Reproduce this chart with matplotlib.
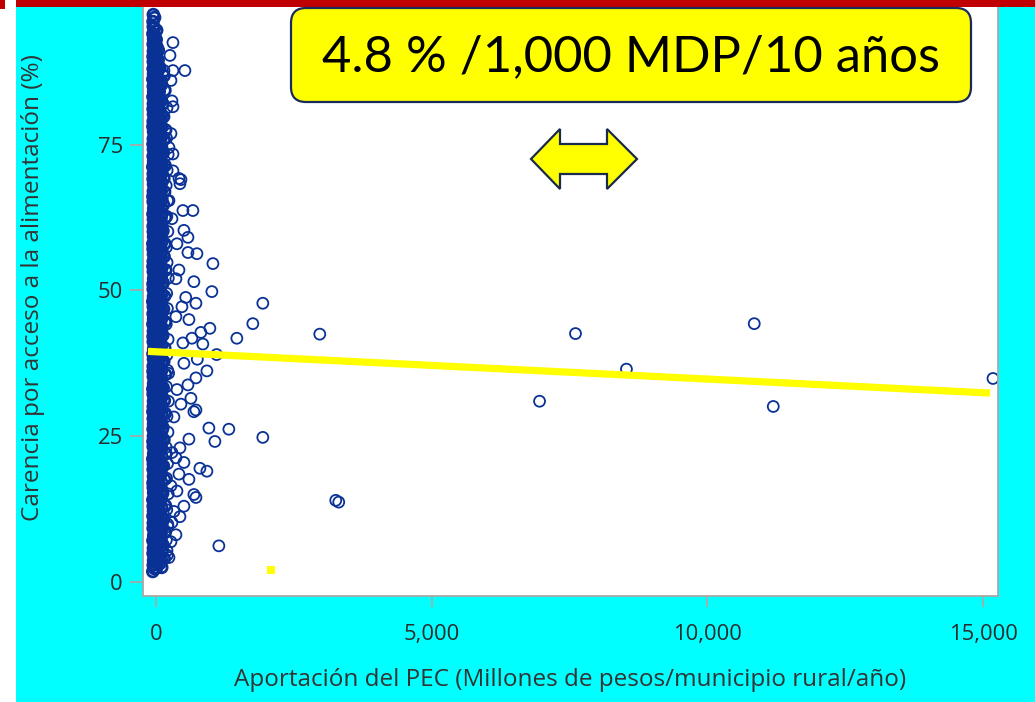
import matplotlib
matplotlib.use("Agg")
import matplotlib.pyplot as plt
from matplotlib.patches import Rectangle, FancyBboxPatch, Polygon
from matplotlib.transforms import IdentityTransform

# ---------------- data ----------------
# dense column of municipalities with very small PEC contribution
col_a_x = [-58, -50, -44, -53, -47, -56, -41, -52, -49, -55, -45, -51, -57, -43, -50, -54,
           -46, -52, -48, -58, -42, -51, -55, -47, -53, -44, -50, -56, -49, -45, -52, -57,
           -43, -48, -54, -51, -46, -55, -42, -50, -53, -47, -56, -44, -52, -49, -58, -45,
           -51, -54, -43, -48, -55, -50, -46, -53, -57, -44, -49, -52, -47, -55, -42, -51,
           -56, -48, -45, -53, -50, -58, -43, -52, -47, -54, -49, -44, -56, -51, -46, -53,
           -48, -55, -42, -50, -57, -45, -52, -49, -54, -47, -51, -44, -56, -50, -53, -48]
col_a_y = [1.8, 2.9, 3.7, 4.9, 5.8, 7.1, 8.0, 9.2, 10.1, 11.3, 12.2, 13.0, 14.1, 15.3, 16.2, 17.0,
           18.1, 19.3, 20.2, 21.1, 22.0, 23.2, 24.1, 25.0, 26.2, 27.1, 28.0, 29.2, 30.1, 31.0, 32.2, 33.1,
           34.0, 35.2, 36.1, 37.0, 38.2, 39.1, 40.0, 41.2, 42.1, 43.0, 44.2, 45.1, 46.0, 47.2, 48.1, 49.0,
           50.2, 51.1, 52.0, 53.2, 54.1, 55.0, 56.2, 57.1, 58.0, 59.2, 60.1, 61.0, 62.2, 63.1, 64.0, 65.2,
           66.1, 67.0, 68.2, 69.1, 70.0, 71.2, 72.1, 73.0, 74.2, 75.1, 76.0, 77.2, 78.1, 79.0, 80.2, 81.1,
           82.0, 83.2, 84.1, 85.0, 86.2, 87.1, 88.0, 89.2, 90.1, 91.0, 92.2, 93.1, 94.0, 95.2, 96.1, 97.3]
col_b_x = [12, 5, 18, 9, 15, 2, 20, 7, 13, 4, 17, 10, 1, 19, 8, 14,
           6, 16, 11, 3, 21, 9, 15, 5, 18, 12, 2, 17, 7, 14, 10, 20,
           4, 13, 8, 19, 6, 16, 11, 1, 18, 9, 15, 3, 12, 20, 7, 14,
           5, 17, 10, 2, 19, 8, 13, 16, 4, 11, 18, 6, 15, 9, 1, 20,
           12, 7, 17, 3, 14, 10, 19, 5, 16, 8, 13, 2, 18, 11, 6, 15,
           9, 20, 4, 12, 17, 7, 14, 1, 10, 16, 5, 13]
col_b_y = [2.4, 3.3, 4.4, 5.3, 6.5, 7.5, 8.6, 9.7, 10.6, 11.8, 12.6, 13.6, 14.7, 15.8, 16.6, 17.5,
           18.7, 19.8, 20.6, 21.6, 22.5, 23.7, 24.6, 25.5, 26.7, 27.6, 28.5, 29.7, 30.6, 31.5, 32.7, 33.6,
           34.5, 35.7, 36.6, 37.5, 38.7, 39.6, 40.5, 41.7, 42.6, 43.5, 44.7, 45.6, 46.5, 47.7, 48.6, 49.5,
           50.7, 51.6, 52.5, 53.7, 54.6, 55.5, 56.7, 57.6, 58.5, 59.7, 60.6, 61.5, 62.7, 63.6, 64.5, 65.7,
           66.6, 67.5, 68.7, 69.6, 70.5, 71.7, 72.6, 73.5, 74.7, 75.6, 76.5, 77.7, 78.6, 79.5, 80.7, 81.6,
           82.5, 83.7, 84.6, 85.5, 86.7, 87.6, 88.5, 89.7, 90.6, 91.8, 93.0, 94.6]
col_c_x = [75, 62, 88, 70, 95, 58, 82, 66, 91, 73, 60, 85, 78, 64, 93, 69,
           80, 57, 87, 72, 96, 63, 84, 68, 90, 76, 59, 86, 71, 94, 65, 81,
           74, 61, 89, 67, 92, 79, 56, 83, 70, 97, 62, 88, 75, 66, 90, 73,
           58, 85, 77, 64, 93, 69, 81, 60, 87, 72]
col_c_y = [3.2, 4.6, 6.1, 7.7, 9.1, 10.7, 12.0, 13.5, 15.0, 16.4, 17.9, 19.4, 20.8, 22.3, 23.9, 25.2,
           26.8, 28.3, 29.6, 31.2, 32.6, 34.1, 35.5, 37.0, 38.5, 39.9, 41.4, 42.8, 44.3, 45.8, 47.2, 48.7,
           50.1, 51.6, 53.0, 54.5, 56.0, 57.4, 58.9, 60.3, 61.8, 63.2, 64.7, 66.1, 67.6, 69.1, 70.5, 72.0,
           73.4, 74.9, 76.3, 77.8, 79.3, 80.8, 82.4, 84.1, 86.0, 88.2]
col_d_x = [150, 128, 165, 140, 172, 122, 158, 135, 180, 145, 126, 168, 152, 132, 175, 142,
           160, 124, 170, 138, 155, 130, 178, 148, 162, 127, 173, 136, 157, 144, 166, 133,
           150, 176, 139, 125, 163, 147]
col_d_y = [4.0, 6.3, 8.5, 10.8, 13.1, 15.2, 17.6, 19.9, 22.0, 24.4, 26.5, 28.9, 31.1, 33.3, 35.6, 37.8,
           40.1, 42.3, 44.6, 46.8, 49.0, 51.3, 53.5, 55.8, 58.0, 60.2, 62.5, 64.7, 66.9, 69.2, 71.4, 73.6,
           75.9, 77.5, 79.8, 82.0, 84.3, 86.8]
col_e = [(-27, 2.3), (-22, 3.4), (-30, 4.3), (-24, 5.4), (-20, 6.3), (-28, 7.4), (-23, 8.3), (-26, 9.4),
         (-21, 10.3), (-29, 11.4), (-25, 12.3), (-22, 13.4), (-27, 14.3), (-30, 15.4), (-24, 16.3),
         (-20, 17.4), (-26, 18.3), (-23, 19.4), (-28, 20.3), (-21, 21.4), (-25, 22.3), (-29, 23.4),
         (-22, 24.3), (-27, 25.4), (-24, 26.3), (-20, 27.4), (-30, 28.3), (-26, 29.4), (-23, 30.3),
         (-28, 31.4), (-21, 32.3), (-25, 33.4), (-29, 34.3), (-22, 35.4), (-27, 36.3), (-24, 37.4),
         (-20, 38.3), (-26, 39.4), (-30, 40.3), (-23, 41.4), (-28, 42.3), (-21, 43.4), (-25, 44.3),
         (-29, 45.4), (-22, 46.3), (-27, 47.4), (-24, 48.3), (-20, 49.4), (-26, 50.3), (-23, 51.4),
         (-30, 52.3), (-28, 53.4), (-21, 54.3), (-25, 55.4), (-29, 56.3), (-22, 57.4), (-27, 58.3),
         (-24, 59.4), (-20, 60.3), (-26, 61.4), (-23, 62.3), (-28, 63.4), (-30, 64.3), (-21, 65.4),
         (-25, 66.3), (-29, 67.4), (-22, 68.3), (-27, 69.4), (-24, 70.3), (-20, 71.4), (-26, 72.3),
         (-23, 73.4), (-28, 74.3), (-21, 75.4), (-30, 76.3), (-25, 77.4), (-29, 78.3), (-22, 79.4),
         (-27, 80.3), (-24, 81.4), (-20, 82.3), (-26, 83.4), (-23, 84.3), (-28, 85.4), (-21, 86.3),
         (-25, 87.4), (-29, 88.3), (-22, 89.4), (-27, 90.3), (-24, 91.4), (-26, 92.5), (-23, 93.6),
         (-28, 95.0), (-25, 96.8)]
col_f = [(38, 3.9), (45, 4.8), (35, 5.9), (42, 6.8), (48, 7.9), (36, 8.8), (44, 9.9), (40, 10.8),
         (47, 11.9), (34, 12.8), (43, 13.9), (39, 14.8), (46, 15.9), (37, 16.8), (41, 17.9), (49, 18.8),
         (35, 19.9), (44, 20.8), (38, 21.9), (47, 22.8), (42, 23.9), (36, 24.8), (45, 25.9), (40, 26.8),
         (48, 27.9), (34, 28.8), (43, 29.9), (39, 30.8), (46, 31.9), (37, 32.8), (41, 33.9), (49, 34.8),
         (35, 35.9), (44, 36.8), (38, 37.9), (47, 38.8), (42, 39.9), (36, 40.8), (45, 41.9), (40, 42.8),
         (48, 43.9), (34, 44.8), (43, 45.9), (39, 46.8), (46, 47.9), (37, 48.8), (41, 49.9), (49, 50.8),
         (35, 51.9), (44, 52.8), (38, 53.9), (47, 54.8), (42, 55.9), (36, 56.8), (45, 57.9), (40, 58.8),
         (48, 59.9), (34, 60.8), (43, 61.9), (39, 62.8), (46, 63.9), (37, 64.8), (41, 65.9), (49, 66.8),
         (35, 67.9), (44, 68.8), (38, 69.9), (47, 70.8), (42, 71.9), (36, 72.8), (45, 73.9), (40, 74.8),
         (48, 75.9), (34, 76.8), (43, 77.9), (39, 78.8), (46, 79.9), (37, 80.8), (41, 81.9), (44, 82.8),
         (38, 83.9), (42, 85.0), (36, 86.3), (45, 87.8), (40, 89.5), (43, 91.2)]
col_g = [(105, 2.5), (96, 3.9), (110, 5.3), (100, 6.9), (92, 8.4), (108, 9.8), (98, 11.3), (104, 12.7),
         (94, 14.2), (112, 15.7), (101, 17.1), (95, 18.6), (107, 20.1), (99, 21.6), (103, 23.0), (93, 24.5),
         (109, 26.0), (97, 27.4), (106, 28.9), (100, 30.4), (111, 31.8), (94, 33.3), (102, 34.8), (98, 36.2),
         (108, 37.7), (95, 39.2), (104, 40.6), (99, 42.1), (110, 43.6), (96, 45.0), (103, 46.5), (93, 48.0),
         (107, 49.4), (101, 50.9), (97, 52.4), (105, 53.8), (94, 55.3), (109, 56.8), (100, 58.2), (98, 59.7),
         (106, 61.2), (95, 62.6), (102, 64.1), (108, 65.6), (96, 67.0), (104, 68.5), (99, 70.0), (111, 71.5),
         (97, 73.0), (103, 74.5), (94, 76.2), (106, 78.0), (100, 80.1), (96, 82.6), (102, 85.3)]
col_h = [(205, 4.6), (188, 7.2), (215, 9.9), (196, 12.4), (222, 15.1), (192, 17.8), (210, 20.3),
         (186, 23.1), (218, 25.7), (200, 28.4), (226, 31.0), (190, 33.5), (212, 36.3), (198, 38.9),
         (220, 41.6), (187, 44.2), (207, 46.9), (194, 49.5), (224, 52.1), (202, 54.8), (189, 57.4),
         (216, 60.1), (197, 62.7), (211, 65.4), (185, 68.0), (203, 70.6), (221, 73.3), (193, 76.1)]
# scattered municipalities next to the column and far outliers
sc_x = [145, 308, 525, 272, 290, 308, 200, 272, 236, 308, 308, 417, 453, 435, 236, 489, 670, 290,
        507, 580, 743, 580, 1033, 417, 362, 688, 1014, 540, 725, 471, 1938, 362, 598, 1757, 978, 815,
        1467, 2971, 652, 489, 850, 1100, 750, 507, 924, 725, 580, 381, 634, 453, 725, 688, 326, 960,
        1322, 1938, 1069, 598, 435, 290, 362, 507, 797, 924, 417, 598, 272, 381, 688, 725, 3261, 3315,
        507, 326, 435, 290, 217, 362, 272, 1141, 200, 236, 308, 254, 380, 230,
        15181, 10851, 11196, 8533, 7609, 6957]
sc_y = [87.7, 87.7, 87.7, 86.0, 82.5, 81.5, 81.3, 76.9, 74.5, 73.4, 70.5, 69.2, 69.0, 68.3, 65.4, 63.7,
        63.7, 62.3, 60.3, 59.1, 56.3, 56.5, 54.6, 53.5, 52.0, 51.5, 49.8, 48.8, 47.8, 47.2, 47.8, 45.5,
        45.0, 44.3, 43.5, 42.8, 41.8, 42.5, 41.8, 41.0, 40.8, 39.0, 38.2, 37.5, 36.2, 35.0, 33.8, 33.0,
        31.5, 30.5, 29.5, 29.2, 28.3, 26.4, 26.2, 24.8, 24.1, 24.5, 23.0, 22.2, 21.3, 20.5, 19.5, 19.0,
        18.5, 17.6, 16.5, 15.6, 15.0, 14.5, 14.0, 13.7, 13.0, 12.1, 11.2, 10.2, 9.5, 8.1, 6.9, 6.2,
        5.4, 4.2, 92.5, 90.3, 58.0, 35.8,
        34.9, 44.3, 30.1, 36.5, 42.6, 31.0]
# fitted line
fit_x = [-145, 15130]
fit_y = [39.55, 32.4]
# stray yellow mark
mark_x = [2083]
mark_y = [2.05]

x_ticks = [0, 5000, 10000, 15000]
x_ticklabels = ["0", "5,000", "10,000", "15,000"]
y_ticks = [0, 25, 50, 75]
y_ticklabels = ["0", "25", "50", "75"]

# ---------------- figure ----------------
W, H = 1035, 702
fig = plt.figure(figsize=(W / 100, H / 100), dpi=100)
fig.patch.set_facecolor("#00FFFF")

def fx(px):
    return px / W

def fy(py):
    return 1 - py / H

ax = fig.add_axes([fx(143), fy(596), fx(998) - fx(143), fy(7) - fy(596)])
ax.set_facecolor("white")
ax.set_xlim(-235, 15272)
ax.set_ylim(-2.4, 98.6)

navy = "#0a3296"
mk_col = dict(s=60, facecolors="none", edgecolors=navy, linewidths=2.0, zorder=2)
mk = dict(s=62, facecolors="none", edgecolors=navy, linewidths=1.3, zorder=2)
ax.scatter(col_a_x, col_a_y, **mk_col)
ax.scatter(col_b_x, col_b_y, **mk_col)
ax.scatter(col_c_x, col_c_y, **mk_col)
ax.scatter(col_d_x, col_d_y, **mk_col)
for strand in (col_e, col_f, col_g):
    ax.scatter([p[0] for p in strand], [p[1] for p in strand], **mk_col)
ax.scatter([p[0] for p in col_h], [p[1] for p in col_h], **mk)
ax.scatter(sc_x, sc_y, **mk)
ax.plot(fit_x, fit_y, color="#FFFF00", lw=5.2, solid_capstyle="butt", zorder=3)
ax.scatter(mark_x, mark_y, marker="s", s=26, color="#FFFF00", linewidths=0, zorder=3)

for side in ["left", "bottom", "right"]:
    ax.spines[side].set_color("#a8a8a8")
    ax.spines[side].set_linewidth(1.3)
ax.spines["top"].set_visible(False)

ax.set_xticks(x_ticks)
ax.set_xticklabels(x_ticklabels)
ax.set_yticks(y_ticks)
ax.set_yticklabels(y_ticklabels)
ax.tick_params(axis="x", direction="out", length=8, width=1.3, color="#a8a8a8",
               pad=12, labelsize=15.8, labelcolor="#2b2b2b")
ax.tick_params(axis="y", direction="out", length=9.5, width=1.3, color="#a8a8a8",
               pad=5, labelsize=15.8, labelcolor="#2b2b2b")
for lab in ax.get_xticklabels() + ax.get_yticklabels():
    lab.set_fontfamily("Open Sans")

fig.text(fx(570), fy(680), "Aportación del PEC (Millones de pesos/municipio rural/año)",
         ha="center", va="center", fontsize=17.5, color="#333333", family="Open Sans")
fig.text(fx(33), fy(288), "Carencia por acceso a la alimentación (%)",
         ha="center", va="center", rotation=90, fontsize=17.5, color="#333333", family="Open Sans")

# decorations
fig.add_artist(Rectangle((fx(16), fy(7)), 1 - fx(16), fy(0) - fy(7), transform=fig.transFigure,
                         facecolor="#C00000", edgecolor="none", zorder=10))
fig.add_artist(Rectangle((0, 0), fx(16), 1, transform=fig.transFigure,
                         facecolor="white", edgecolor="none", zorder=10))
fig.add_artist(Rectangle((0, fy(9)), fx(5), fy(0) - fy(9), transform=fig.transFigure,
                         facecolor="#C00000", edgecolor="none", zorder=11))

box = FancyBboxPatch((291, H - 102), 971 - 291, 102 - 8,
                     boxstyle="round,pad=0,rounding_size=15", transform=IdentityTransform(),
                     facecolor="#FFFF00", edgecolor="#1a2a5a", linewidth=1.6, zorder=12)
fig.add_artist(box)
fig.text(fx(631), fy(57), "4.8 % /1,000 MDP/10 años", ha="center", va="center",
         fontsize=36.5, color="black", family="Lato", zorder=13)

arrow_px = [(531, 159), (560, 129), (560, 144), (607, 144), (607, 129), (637, 159),
            (607, 189), (607, 174), (560, 174), (560, 189)]
fig.add_artist(Polygon([(x, H - y) for x, y in arrow_px], closed=True, transform=IdentityTransform(),
                       facecolor="#FFFF00", edgecolor="#1a2a4a", linewidth=1.6, zorder=12))

fig.savefig("out.png", dpi=100, facecolor=fig.get_facecolor())
